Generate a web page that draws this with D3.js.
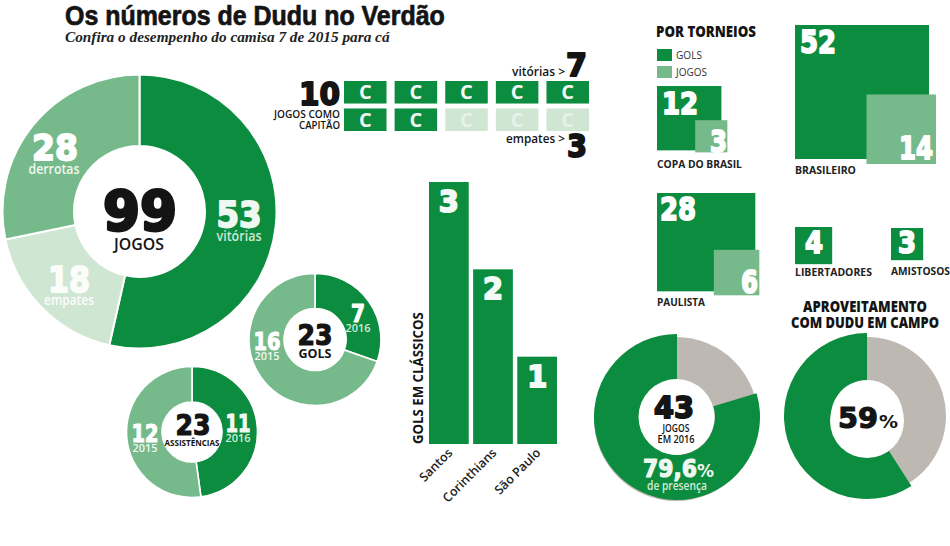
<!DOCTYPE html>
<html lang="pt">
<head>
<meta charset="utf-8">
<script src="https://cdn.jsdelivr.net/npm/d3@7"></script>
<style>
html,body{margin:0;padding:0;background:#fff}
svg{display:block}
</style>
</head>
<body>
<svg id="c" width="950" height="546"></svg>
<script>
// ---------- DATA ----------
const jogosLabels = ["vitórias", "empates", "derrotas"];
const jogosValues = [53, 18, 28];
const golsLabels = ["2016", "2015"];
const golsValues = [7, 16];
const assistLabels = ["2016", "2015"];
const assistValues = [11, 12];
const classicosTeams = ["Santos", "Corinthians", "São Paulo"];
const classicosGols = [3, 2, 1];
const capitaoResultados = ["v","v","v","v","v","v","v","e","e","e"];
const torneios = ["COPA DO BRASIL", "BRASILEIRO", "PAULISTA", "LIBERTADORES", "AMISTOSOS"];
const torneioJogos = [12, 52, 28, 4, 3];
const torneioGols = [3, 14, 6, 0, 0];
const presenca = [79.6, 20.4];
const aproveitamento = [59, 41];

// ---------- STYLE ----------
const GREEN = "#0b8c3e", MID = "#76b98a", LIGHT = "#cfe6d3", GRAY = "#bdb8b1", INK = "#141414";
const HEAVY = "'DejaVu Sans'", SANS = "'Open Sans'";
const svg = d3.select("#c");

// Text helper: o.len stretches the glyphs horizontally to a measured width.
function t(x, y, str, o = {}) {
  const s = svg.append("text").text(str)
    .attr("text-anchor", o.anchor || "middle")
    .attr("font-family", o.font || SANS)
    .attr("font-size", o.size || 12)
    .attr("font-weight", o.weight || 700)
    .attr("fill", o.fill || INK);
  if (o.italic) s.attr("font-style", "italic");
  if (o.stroke) s.attr("stroke", o.fill || INK).attr("stroke-width", o.stroke).attr("stroke-linejoin", "round");
  const k = o.len ? o.len / s.node().getComputedTextLength() : 1;
  s.attr("transform", `translate(${x},${y})${o.rotate ? ` rotate(${o.rotate})` : ""} scale(${k},1)`);
  return s;
}
const num = (x, y, str, size, fill, len, anchor) =>
  t(x, y, str, {font: HEAVY, size, fill, len, anchor, weight: 700,
    stroke: size >= 50 ? 3 : size >= 30 ? 1.9 : 1.2});

function donut(cx, cy, rOuter, rInner, values, colors, sepWidth = 1.6) {
  const pie = d3.pie().sort(null)(values);
  const arc = d3.arc().innerRadius(rInner).outerRadius(rOuter);
  svg.append("g").attr("transform", `translate(${cx},${cy})`)
    .selectAll("path").data(pie).join("path")
    .attr("d", arc).attr("fill", (d, i) => colors[i])
    .attr("stroke", "#fff").attr("stroke-width", sepWidth);
}

// ---------- TITLE ----------
t(65, 25, "Os números de Dudu no Verdão", {anchor: "start", font: "'Liberation Sans'", size: 27, weight: 700, stroke: 0.7, len: 380});
t(65, 42, "Confira o desempenho do camisa 7 de 2015 para cá",
  {anchor: "start", font: "'Liberation Serif'", italic: true, size: 15.5, len: 325, fill: "#222"});

// ---------- DONUTS ----------
donut(139.5, 211.5, 137, 65.5, jogosValues, [GREEN, LIGHT, MID], 2);
num(239, 227, jogosValues[0], 36, "#eef8f1", 45);
t(239, 241, jogosLabels[0], {fill: "#cfe8d6", size: 14, weight: 600, len: 45});
num(69, 292, jogosValues[1], 36, "#fafdfa", 42);
t(69, 305, jogosLabels[1], {fill: "#fafdfa", size: 14, weight: 600, len: 50});
num(55, 160, jogosValues[2], 36, "#fff", 46);
t(54, 174, jogosLabels[2], {fill: "#f2f8f3", size: 14, weight: 600, len: 51});
num(140, 230, d3.sum(jogosValues), 56, INK, 74);
t(139, 250, "JOGOS", {size: 16, weight: 600, len: 50});

donut(315, 339.5, 66, 31, golsValues, [GREEN, MID]);
num(358, 322, golsValues[0], 24, "#fff", 14);
t(358, 332, golsLabels[0], {fill: "#d7ecdc", size: 11, weight: 600, len: 25});
num(267, 350, golsValues[1], 24, "#fff", 27);
t(267, 360, golsLabels[1], {fill: "#f2f8f3", size: 11, weight: 600, len: 25});
num(315, 345, d3.sum(golsValues), 28, INK, 35);
t(315, 358, "GOLS", {size: 13, weight: 700, len: 33});

donut(192, 432, 65.5, 30, assistValues, [GREEN, MID]);
num(238, 432, assistValues[0], 24, "#eef8f1", 25);
t(238, 442, assistLabels[0], {fill: "#d7ecdc", size: 11, weight: 600, len: 25});
num(145, 442, assistValues[1], 24, "#fff", 27);
t(145, 452, assistLabels[1], {fill: "#f2f8f3", size: 11, weight: 600, len: 25});
num(193, 435, d3.sum(assistValues), 28, INK, 35);
t(192, 446, "ASSISTÊNCIAS", {size: 8.5, weight: 700, len: 55});

// ---------- CAPITÃO ----------
const capX = d3.scaleBand().domain(d3.range(5)).range([344, 589]).paddingInner(0.16);
const capY = d3.scaleBand().domain([0, 1]).range([81, 131]).paddingInner(0.18);
const cap = svg.append("g").selectAll("g").data(capitaoResultados).join("g")
  .attr("transform", (d, i) => `translate(${capX(i % 5)},${capY(Math.floor(i / 5))})`);
cap.append("rect").attr("width", capX.bandwidth()).attr("height", capY.bandwidth())
  .attr("fill", d => d === "v" ? GREEN : LIGHT);
cap.append("text").text("C").attr("x", capX.bandwidth() / 2).attr("y", capY.bandwidth() / 2 + 7)
  .attr("text-anchor", "middle").attr("font-family", "'Liberation Sans Narrow','Open Sans'")
  .attr("font-weight", 700).attr("font-size", 20)
  .attr("fill", d => d === "v" ? "#f2f9f4" : "#e6f1e8");
num(340, 105, capitaoResultados.length, 32, INK, 41, "end");
t(340, 118, "JOGOS COMO", {anchor: "end", size: 10, weight: 600, len: 66});
t(340, 129, "CAPITÃO", {anchor: "end", size: 10, weight: 600, len: 41});
t(565, 76, "vitórias >", {anchor: "end", size: 13, weight: 600, len: 53});
num(587, 76, capitaoResultados.filter(d => d === "v").length, 32, INK, 21, "end");
t(565, 143, "empates >", {anchor: "end", size: 13, weight: 600, len: 59});
num(587, 157, capitaoResultados.filter(d => d === "e").length, 32, INK, 20, "end");

// ---------- CLÁSSICOS ----------
const bx = d3.scaleBand().domain(classicosTeams).range([429, 557]).paddingInner(0.1);
const by = d3.scaleLinear().domain([0, 3]).range([444, 182]);
const barG = svg.append("g");
barG.selectAll("rect").data(classicosTeams).join("rect")
  .attr("x", d => bx(d)).attr("width", bx.bandwidth())
  .attr("y", (d, i) => by(classicosGols[i]))
  .attr("height", (d, i) => by(0) - by(classicosGols[i]))
  .attr("fill", GREEN);
classicosTeams.forEach((d, i) =>
  num(bx(d) + bx.bandwidth() / 2, by(classicosGols[i]) + 30, classicosGols[i], 30, "#f4faf5", 20));
const ax = svg.append("g").attr("transform", "translate(0,444)")
  .call(d3.axisBottom(bx).tickSize(0));
ax.select(".domain").remove();
ax.selectAll("text")
  .attr("font-family", SANS).attr("font-size", 12.5).attr("font-weight", 600).attr("fill", "#222")
  .attr("text-anchor", "end").attr("dx", "-0.3em").attr("dy", "0.55em")
  .attr("transform", "rotate(-45)");
t(423, 444, "GOLS EM CLÁSSICOS", {anchor: "start", size: 14, weight: 700, len: 132, rotate: -90});

// ---------- TORNEIOS ----------
t(656, 37, "POR TORNEIOS", {anchor: "start", size: 15, weight: 800, len: 100});
svg.append("rect").attr("x", 657).attr("y", 49).attr("width", 15).attr("height", 12).attr("fill", GREEN);
svg.append("rect").attr("x", 657).attr("y", 66).attr("width", 15).attr("height", 12).attr("fill", MID);
t(676, 59, "GOLS", {anchor: "start", size: 11, weight: 400, len: 26, fill: "#333"});
t(676, 76, "JOGOS", {anchor: "start", size: 11, weight: 400, len: 31, fill: "#333"});

const side = d3.scaleSqrt().domain([0, 52]).range([0, 134]);
// top-left anchor of each dark square; offset of the light square's corner; label placement
const sqLayout = [
  {x: 657, y: 86, dx: 6, dy: 2, lx: 662, ly: 114, gx: 727, gy: 152, size: 30, lab: [657, 168, 85]},
  {x: 795, y: 25, dx: 7, dy: 5, lx: 800, ly: 53, gx: 933, gy: 159, size: 32, lab: [795, 174, 61]},
  {x: 657, y: 193, dx: 4, dy: 4, lx: 660, ly: 220, gx: 758, gy: 293, size: 32, lab: [657, 306, 48]},
  {x: 795, y: 227, lx: 814, ly: 253, size: 30, mid: true, lab: [795, 276, 77]},
  {x: 891, y: 228, lx: 907, ly: 253, size: 30, mid: true, lab: [891, 275, 59]}
];
torneios.forEach((name, i) => {
  const L = sqLayout[i], s = side(torneioJogos[i]);
  svg.append("rect").attr("x", L.x).attr("y", L.y).attr("width", s).attr("height", s).attr("fill", GREEN);
  if (torneioGols[i] > 0) {
    const g = side(torneioGols[i]);
    svg.append("rect").attr("x", L.x + s + L.dx - g).attr("y", L.y + s + L.dy - g)
      .attr("width", g).attr("height", g).attr("fill", MID);
    num(L.gx, L.gy, torneioGols[i], L.size, "#fff", String(torneioGols[i]).length * 17, "end");
  }
  num(L.lx, L.ly, torneioJogos[i], L.size, "#fff", String(torneioJogos[i]).length * 18, L.mid ? "middle" : "start");
  t(L.lab[0], L.lab[1], name, {anchor: "start", size: 10.5, weight: 700, len: L.lab[2], fill: "#222"});
});

// ---------- APROVEITAMENTO ----------
t(865, 312, "APROVEITAMENTO", {size: 15, weight: 800, len: 124});
t(865, 328, "COM DUDU EM CAMPO", {size: 15, weight: 800, len: 148});

// ---------- PRESENÇA ----------
const fullArc = (cx, cy, ro, ri, fill) => svg.append("path")
  .attr("transform", `translate(${cx},${cy})`)
  .attr("d", d3.arc().innerRadius(ri).outerRadius(ro).startAngle(0).endAngle(2 * Math.PI)())
  .attr("fill", fill);
fullArc(676, 419, 82, 36, GRAY);
const presPie = d3.pie().sort(null).startAngle(2 * Math.PI * presenca[1] / 100).endAngle(2 * Math.PI)([presenca[0]]);
svg.append("path").attr("transform", "translate(677,417)")
  .attr("d", d3.arc().innerRadius(38).outerRadius(83)(presPie[0])).attr("fill", GREEN);
svg.append("circle").attr("cx", 676.5).attr("cy", 417).attr("r", 38).attr("fill", "#fff");
num(674, 418, 43, 30, INK, 40);
t(676, 432, "JOGOS", {size: 11, weight: 600, len: 27});
t(676, 443, "EM 2016", {size: 11, weight: 600, len: 37});
num(643, 477, String(presenca[0]).replace(".", ","), 24, "#eef7f0", 54, "start");
t(697, 477, "%", {anchor: "start", font: HEAVY, size: 17, fill: "#eef7f0", len: 17});
t(677, 490, "de presença", {fill: "#d7ecdc", size: 12, weight: 600, len: 60});

// ---------- 59% ----------
const apPie = d3.pie().sort(null).startAngle(0).endAngle(2 * Math.PI)(aproveitamento.slice().reverse());
const apG = svg.append("g").attr("transform", "translate(867,416)");
apG.append("path").attr("d", d3.arc().innerRadius(36).outerRadius(79)(apPie[0])).attr("fill", GRAY);
apG.append("path").attr("d", d3.arc().innerRadius(36).outerRadius(83)(apPie[1])).attr("fill", GREEN);
svg.append("circle").attr("cx", 867).attr("cy", 421).attr("r", 37).attr("fill", "#fff");
num(858, 428, aproveitamento[0], 28, INK, 40);
t(879, 428, "%", {anchor: "start", font: HEAVY, size: 17, len: 19});
</script>
</body>
</html>
